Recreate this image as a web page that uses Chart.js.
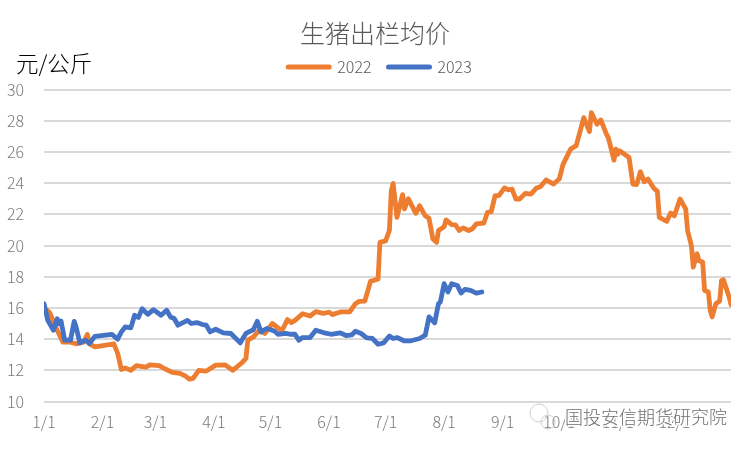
<!DOCTYPE html>
<html>
<head>
<meta charset="utf-8">
<script src="https://cdn.jsdelivr.net/npm/chart.js@4"></script>
<style>
    html, body { margin: 0; padding: 0; background: #fff; }
    canvas { display: block; }
</style>
</head>
<body>
<canvas id="price-chart" width="750" height="450"></canvas>
<script>
// --- Data: day of year (0 = 1/1) and price in yuan per kg ---
const monthDays = [0, 31, 59, 90, 120, 151, 181, 212, 243, 273, 304, 334];
const monthLabels = ['1/1', '2/1', '3/1', '4/1', '5/1', '6/1', '7/1', '8/1', '9/1', '10/1', '11/1', '12/1'];

const days2022 = [0, 3, 7, 10, 14, 17, 21, 23, 24, 27, 37, 39, 41, 43, 46, 49, 54, 56, 61, 64,
    68, 72, 75, 77, 79, 82, 86, 91, 96, 100, 105, 107, 108, 111, 114, 117, 121, 126, 129, 131,
    133, 137, 141, 144, 148, 151, 153, 157, 162, 165, 167, 170, 173, 177, 178, 181, 183, 184, 185, 187,
    190, 191, 193, 197, 199, 202, 204, 206, 208, 209, 212, 213, 216, 218, 220, 222, 225, 227, 229, 233,
    235, 237, 239, 241, 244, 246, 248, 250, 252, 255, 258, 261, 263, 266, 270, 273, 275, 279, 282, 286,
    289, 290, 293, 295, 298, 299, 302, 303, 304, 305, 310, 312, 314, 316, 318, 320, 323, 325, 326, 330,
    332, 334, 337, 340, 341, 343, 344, 346, 347, 349, 350, 352, 353, 354, 356, 358, 359, 360, 361, 363, 364];
const prices2022 = [16.0, 15.7, 14.57, 13.8, 13.8, 13.7, 13.8, 14.3, 13.7, 13.5, 13.7, 13.1, 12.05, 12.15, 12.0, 12.3, 12.2, 12.35, 12.3, 12.1,
    11.87, 11.8, 11.63, 11.44, 11.48, 12.0, 11.95, 12.33, 12.35, 12.0, 12.5, 12.76, 13.93, 14.14, 14.57, 14.36, 15.0, 14.52, 15.25, 15.06,
    15.2, 15.63, 15.48, 15.76, 15.65, 15.72, 15.57, 15.74, 15.74, 16.27, 16.42, 16.44, 17.7, 17.85, 20.2, 20.3, 20.96, 23.5, 23.98, 21.8,
    23.26, 22.35, 23.0, 22.06, 22.55, 21.9, 21.74, 20.43, 20.2, 20.96, 21.2, 21.64, 21.34, 21.32, 20.96, 21.13, 20.96, 21.07, 21.38, 21.43,
    22.13, 22.17, 23.2, 23.2, 23.69, 23.56, 23.62, 22.98, 22.98, 23.34, 23.3, 23.69, 23.77, 24.2, 23.94, 24.26, 25.2, 26.18, 26.4, 28.2,
    27.3, 28.52, 27.77, 28.05, 27.14, 26.92, 25.47, 26.18, 25.85, 26.07, 25.64, 23.94, 23.9, 24.73, 24.09, 24.26, 23.69, 23.47, 21.8, 21.55,
    22.09, 21.9, 22.98, 22.35, 20.96, 20.0, 18.61, 19.47, 19.04, 18.93, 17.12, 17.02, 15.85, 15.42, 16.27, 16.44, 17.76, 17.8, 17.44, 16.7, 16.21];

const days2023 = [0, 2, 5, 7, 8, 9, 11, 14, 16, 17, 19, 22, 24, 27, 36, 39, 41, 43, 46, 48,
    50, 52, 55, 58, 62, 65, 67, 69, 71, 76, 78, 81, 84, 86, 88, 91, 95, 99, 104, 107,
    111, 113, 115, 118, 122, 124, 128, 131, 133, 135, 137, 141, 144, 148, 152, 157, 160, 163, 165, 168,
    171, 174, 177, 180, 183, 185, 187, 191, 194, 199, 202, 204, 207, 209, 210, 212, 214, 216, 219, 221,
    223, 226, 229, 232];
const prices2023 = [16.27, 15.2, 14.57, 15.3, 15.0, 15.16, 13.93, 13.93, 15.14, 14.78, 13.76, 13.93, 13.72, 14.18, 14.3, 14.0, 14.46, 14.78, 14.72, 15.53,
    15.38, 15.95, 15.59, 15.89, 15.53, 15.85, 15.42, 15.32, 14.89, 15.2, 15.0, 15.06, 14.93, 14.89, 14.46, 14.63, 14.4, 14.36, 13.76, 14.36,
    14.61, 15.14, 14.46, 14.68, 14.52, 14.31, 14.36, 14.31, 14.31, 13.93, 14.1, 14.1, 14.57, 14.42, 14.31, 14.4, 14.23, 14.27, 14.5, 14.36,
    14.08, 14.04, 13.67, 13.76, 14.2, 14.04, 14.1, 13.88, 13.88, 14.04, 14.25, 15.42, 15.04, 16.27, 16.38, 17.55, 17.02, 17.55, 17.44, 16.95,
    17.19, 17.12, 16.95, 17.02];

const yTicks = [10, 12, 14, 16, 18, 20, 22, 24, 26, 28, 30];

const CJK_FONT = '"Noto Sans CJK SC", "Noto Sans", sans-serif';

function toPoints(days, prices) {
    return days.map((d, i) => ({ x: d, y: prices[i] }));
}

// --- Title and legend sit off the plot's centre, unit label and account mark are drawn by hand ---
const overlayPlugin = {
    id: 'overlay',
    afterLayout(chart) {
        chart.titleBlock.right += 19;
        chart.titleBlock.top += 2.5;
        chart.legend.left += 29;
        chart.legend.top -= 4.5;
    },
    afterDraw(chart) {
        const ctx = chart.ctx;
        ctx.save();

        ctx.font = '300 22.5px ' + CJK_FONT;
        ctx.fillStyle = '#000';
        ctx.textBaseline = 'middle';
        ctx.textAlign = 'left';
        ctx.fillText('元/公斤', 16, 63);

        // Chat bubbles, outline only
        ctx.lineWidth = 1;
        ctx.strokeStyle = '#cfcfcf';
        ctx.beginPath();
        ctx.arc(539, 413, 9, 0, Math.PI * 2);
        ctx.stroke();
        ctx.beginPath();
        ctx.arc(548, 422, 7, 0, Math.PI * 2);
        ctx.stroke();

        ctx.font = '300 18px ' + CJK_FONT;
        ctx.lineJoin = 'round';
        ctx.lineWidth = 3;
        ctx.strokeStyle = '#fff';
        ctx.strokeText('国投安信期货研究院', 565, 417);
        ctx.fillStyle = '#6e6e6e';
        ctx.fillText('国投安信期货研究院', 565, 417);

        ctx.restore();
    },
};

// --- Chart setup ---
const ctx = document.getElementById('price-chart').getContext('2d');
const priceChart = new Chart(ctx, {
    type: 'line',
    data: {
        datasets: [
            {
                label: '2022',
                data: toPoints(days2022, prices2022),
                borderColor: '#ed7d31',
                backgroundColor: '#ed7d31',
                order: 2,
            },
            {
                label: '2023',
                data: toPoints(days2023, prices2023),
                borderColor: '#4472c4',
                backgroundColor: '#4472c4',
                order: 1,
            },
        ],
    },
    options: {
        responsive: false,
        animation: false,
        layout: { padding: { top: 15.5, right: 19, left: 0, bottom: 0 } },
        elements: {
            point: { radius: 0 },
            line: { borderWidth: 4.8, tension: 0, borderCapStyle: 'round', borderJoinStyle: 'round' },
        },
        scales: {
            x: {
                type: 'linear',
                min: 0,
                max: 364,
                border: { display: false },
                grid: { display: false },
                afterBuildTicks(scale) {
                    scale.ticks = monthDays.map((d) => ({ value: d }));
                },
                afterFit(scale) {
                    scale.height = 48.5;
                },
                ticks: {
                    autoSkip: false,
                    maxRotation: 0,
                    padding: 3,
                    color: '#7a7a7a',
                    font: { family: CJK_FONT, size: 16, weight: '300' },
                    callback(value) {
                        return monthLabels[monthDays.indexOf(value)];
                    },
                },
            },
            y: {
                min: 10,
                max: 30,
                border: { display: false },
                grid: { color: '#d9d9d9', lineWidth: 2, drawTicks: false },
                afterBuildTicks(scale) {
                    scale.ticks = yTicks.map((v) => ({ value: v }));
                },
                afterFit(scale) {
                    scale.width = 44;
                },
                ticks: {
                    padding: 20,
                    color: '#7a7a7a',
                    font: { family: CJK_FONT, size: 16, weight: '300' },
                },
            },
        },
        plugins: {
            title: {
                display: true,
                text: '生猪出栏均价',
                color: '#595959',
                font: { family: CJK_FONT, size: 25, weight: '300' },
                padding: { top: 0, bottom: 1 },
            },
            legend: {
                display: true,
                labels: {
                    usePointStyle: true,
                    pointStyle: 'line',
                    pointStyleWidth: 41,
                    padding: 17,
                    color: '#595959',
                    font: { family: CJK_FONT, size: 16, weight: '300' },
                    sort: (a, b) => Number(a.text) - Number(b.text),
                    generateLabels(chart) {
                        const items = Chart.defaults.plugins.legend.labels.generateLabels(chart);
                        return items.map((item) => ({ ...item, lineWidth: 5, lineCap: 'round' }));
                    },
                },
            },
            tooltip: { enabled: false },
        },
    },
    plugins: [overlayPlugin],
});
</script>
</body>
</html>
